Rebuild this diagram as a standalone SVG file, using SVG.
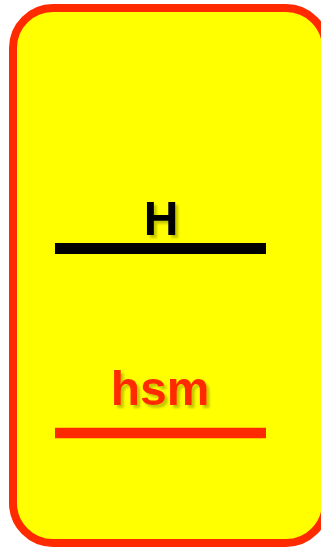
<svg xmlns="http://www.w3.org/2000/svg" width="321" height="547" viewBox="0 0 321 547">
<defs>
<filter id="sh" x="-20%" y="-20%" width="150%" height="150%">
<feGaussianBlur in="SourceAlpha" stdDeviation="1.2"/>
<feOffset dx="2.5" dy="2.5" result="b"/>
<feFlood flood-color="#000" flood-opacity="0.22"/>
<feComposite in2="b" operator="in"/>
<feMerge><feMergeNode/><feMergeNode in="SourceGraphic"/></feMerge>
</filter>
<style>
.lbl{font-family:"Liberation Sans",Arial,sans-serif;font-weight:bold;font-size:48px;text-anchor:middle;filter:url(#sh)}
</style>
</defs>
<g id="box">
<rect x="13" y="8" width="313" height="535" rx="40" ry="40" fill="#FFFF00" stroke="#FF2A00" stroke-width="8"/>
</g>
<g id="connectors">
<line x1="55" y1="248.5" x2="266" y2="248.5" stroke="#000" stroke-width="11"/>
<line x1="55" y1="433" x2="266" y2="433" stroke="#FF2A00" stroke-width="10.5"/>
</g>
<g id="H">
<text class="lbl" x="161" y="235" fill="#000">H</text>
</g>
<g id="hsm">
<text class="lbl" x="160" y="405" fill="#FF2A00">hsm</text>
</g>
</svg>
